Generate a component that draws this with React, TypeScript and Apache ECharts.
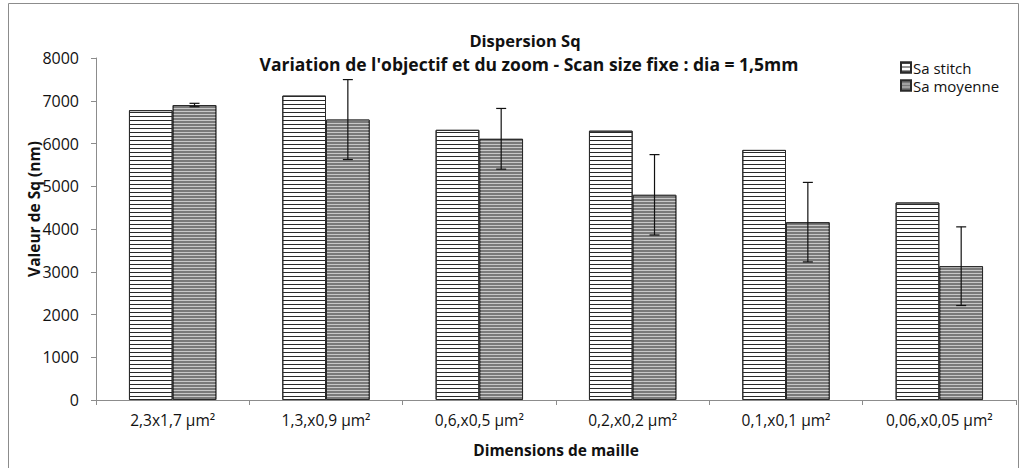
import React, { useEffect, useRef } from "react";
import * as echarts from "echarts";

const categories = ["2,3x1,7 µm²", "1,3,x0,9 µm²", "0,6,x0,5 µm²", "0,2,x0,2 µm²", "0,1,x0,1 µm²", "0,06,x0,05 µm²"];
const saStitch = [6780, 7120, 6320, 6300, 5850, 4620];
const saMoyenne = [6900, 6560, 6110, 4800, 4160, 3130];
const errMoyenne = [40, 935, 710, 940, 930, 920];
const yTicks = [0, 1000, 2000, 3000, 4000, 5000, 6000, 7000, 8000];

const FONT = "Open Sans";
const GAP = 0.43;

export default function App() {
  const ref = useRef<HTMLDivElement>(null);
  useEffect(() => {
    if (!ref.current) return;
    const chart = echarts.init(ref.current, null, { renderer: "svg" });
    const errData = saMoyenne.map((v, i) => [i, v - errMoyenne[i], v + errMoyenne[i]]);
    chart.setOption({
      animation: false,
      backgroundColor: "#fff",
      textStyle: { fontFamily: FONT },
      title: [
        {
          text: "Dispersion Sq",
          left: 520,
          top: 27,
          textAlign: "center",
          textStyle: { fontFamily: FONT, fontSize: 16.5, fontWeight: "bold", color: "#111" },
        },
        {
          text: "Variation de l'objectif et du zoom - Scan size fixe : dia = 1,5mm",
          left: 524,
          top: 50,
          textAlign: "center",
          textStyle: { fontFamily: FONT, fontSize: 17.5, fontWeight: "bold", color: "#111" },
        },
      ],
      graphic: [
        { type: "rect", shape: { x: 8.5, y: 3.5, width: 1010, height: 480 }, style: { fill: "none", stroke: "#8c8c8c", lineWidth: 1 }, silent: true },
        {
          type: "text",
          x: 34,
          y: 209,
          rotation: Math.PI / 2,
          style: { text: "Valeur de Sq (nm)", fontFamily: FONT, fontSize: 15.5, fontWeight: "bold", fill: "#111", align: "center", verticalAlign: "middle" },
          silent: true,
        },
      ],
      legend: {
        orient: "vertical",
        left: 895,
        top: 55,
        icon: "rect",
        itemWidth: 10,
        itemHeight: 10,
        itemGap: 3,
        textStyle: { fontFamily: FONT, fontSize: 15, color: "#111", padding: [0, 0, 0, -3] },
        data: ["Sa stitch", "Sa moyenne"],
      },
      grid: { left: 96, right: 10, top: 58, bottom: 68, containLabel: false },
      xAxis: {
        type: "category",
        data: categories,
        name: "Dimensions de maille",
        nameLocation: "middle",
        nameGap: 42,
        nameTextStyle: { fontFamily: FONT, fontSize: 15.5, fontWeight: "bold", color: "#111" },
        axisLine: { lineStyle: { color: "#8c8c8c" } },
        axisTick: { show: true, length: 5, lineStyle: { color: "#8c8c8c" } },
        axisLabel: { fontFamily: FONT, fontSize: 15.5, color: "#111", margin: 12 },
      },
      yAxis: {
        type: "value",
        min: yTicks[0],
        max: yTicks[yTicks.length - 1],
        interval: 1000,
        axisLine: { show: true, lineStyle: { color: "#8c8c8c" } },
        axisTick: { show: true, length: 5, lineStyle: { color: "#8c8c8c" } },
        axisLabel: { fontFamily: FONT, fontSize: 16, color: "#111", margin: 17, formatter: (v: number) => String(v) },
        splitLine: { show: false },
      },
      series: [
        {
          name: "Sa stitch",
          type: "bar",
          data: saStitch,
          barGap: "0%",
          barCategoryGap: GAP * 100 + "%",
          itemStyle: {
            color: "#ffffff",
            borderColor: "#2a2a2a",
            borderWidth: 1,
            decal: { symbol: "rect", symbolSize: 1, dashArrayX: [1, 0], dashArrayY: [1, 2.6], rotation: 0, color: "#2a2a2a", backgroundColor: "#ffffff" },
          },
        },
        {
          name: "Sa moyenne",
          type: "bar",
          data: saMoyenne,
          barGap: "0%",
          barCategoryGap: GAP * 100 + "%",
          itemStyle: {
            color: "#7a7a7a",
            borderColor: "#2a2a2a",
            borderWidth: 1,
            decal: { symbol: "rect", symbolSize: 1, dashArrayX: [1, 0], dashArrayY: [1, 2], rotation: 0, color: "#c8c8c8", backgroundColor: "#7a7a7a" },
          },
        },
        {
          name: "err",
          type: "custom",
          data: errData,
          encode: { x: 0, y: [1, 2] },
          z: 10,
          renderItem: (params: any, api: any) => {
            const idx = api.value(0);
            const lo = api.coord([idx, api.value(1)]);
            const hi = api.coord([idx, api.value(2)]);
            const band = api.size([1, 0])[0];
            const bw = (band * (1 - GAP)) / 2;
            const x = lo[0] + bw / 2;
            const cap = 5;
            const st = { stroke: "#111", lineWidth: 1.2 };
            return {
              type: "group",
              children: [
                { type: "line", shape: { x1: x, y1: lo[1], x2: x, y2: hi[1] }, style: st },
                { type: "line", shape: { x1: x - cap, y1: lo[1], x2: x + cap, y2: lo[1] }, style: st },
                { type: "line", shape: { x1: x - cap, y1: hi[1], x2: x + cap, y2: hi[1] }, style: st },
              ],
            };
          },
        },
      ],
    });
    return () => chart.dispose();
  }, []);
  return <div ref={ref} style={{ position: "absolute", left: 0, top: 0, width: 1026, height: 468 }} />;
}
